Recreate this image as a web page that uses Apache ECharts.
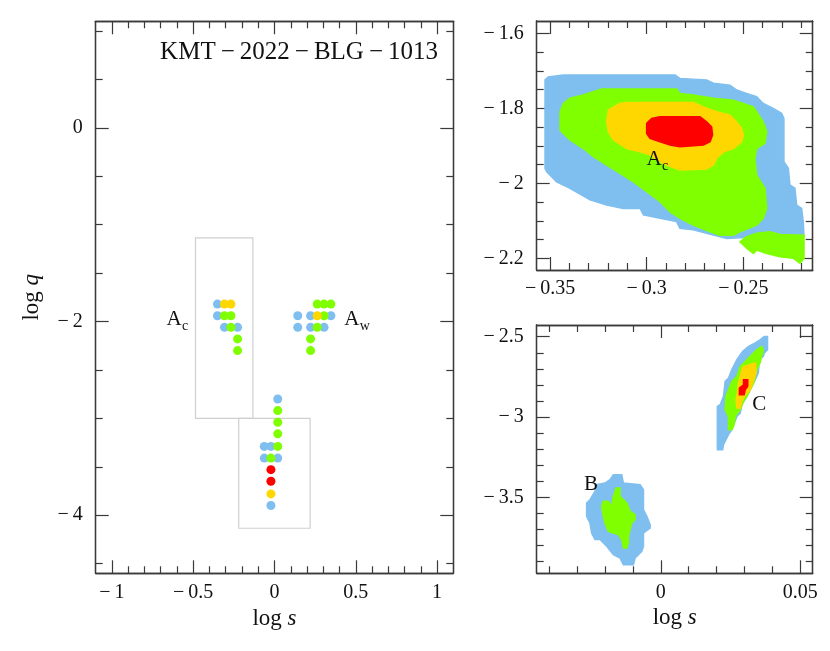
<!DOCTYPE html>
<html><head><meta charset="utf-8">
<script src="https://cdn.jsdelivr.net/npm/echarts@6/dist/echarts.min.js"></script>
<style>html,body{margin:0;padding:0;background:#fff}#c{width:830px;height:651px}</style>
</head><body><div id="c"></div>
<script>
// ---------------- Left panel: grid-search solutions (log s, log q) ----------------
const leftBlue = [[-0.351,-1.82],[-0.351,-1.94],[-0.308,-2.06],[-0.227,-2.06],
  [0.143,-1.94],[0.222,-1.94],[0.347,-1.94],[0.143,-2.06],[0.222,-2.06],[0.305,-2.06],
  [0.020,-2.80],[-0.063,-3.29],[-0.022,-3.29],[-0.063,-3.41],[0.020,-3.41],[-0.022,-3.90]];
const leftGreen = [[-0.308,-1.94],[-0.268,-1.94],[-0.268,-2.06],[-0.227,-2.18],[-0.227,-2.30],
  [0.263,-1.82],[0.305,-1.82],[0.347,-1.82],[0.305,-1.94],[0.263,-2.06],[0.222,-2.18],[0.222,-2.30],
  [0.020,-2.92],[0.020,-3.04],[0.020,-3.16],[0.020,-3.29],[-0.022,-3.41]];
const leftYellow = [[-0.308,-1.82],[-0.268,-1.82],[0.263,-1.94],[-0.022,-3.78]];
const leftRed = [[-0.022,-3.53],[-0.022,-3.65]];
// zoom boxes: [corner1, corner2]
const leftBoxes = [[[-0.486,-1.137],[-0.133,-3.0]], [[-0.22,-3.0],[0.219,-4.135]]];
const leftLabels = [{main:'A', sub:'c', at:[-0.618,-1.98]}, {main:'A', sub:'w', at:[0.475,-1.98]}];

// ---------------- Top-right panel: A_c local (outline vertices of each sigma region) ----------------
const trBlue = [[-0.3526,-1.960],[-0.3526,-1.724],[-0.3509,-1.716],[-0.3431,-1.711],[-0.2853,-1.711],
  [-0.2828,-1.720],[-0.2690,-1.724],[-0.2655,-1.733],[-0.2569,-1.738],[-0.2534,-1.751],[-0.2483,-1.760],
  [-0.2431,-1.769],[-0.2397,-1.787],[-0.2345,-1.800],[-0.2302,-1.813],[-0.2290,-1.827],[-0.2290,-1.942],
  [-0.2267,-1.960],[-0.2259,-2.004],[-0.2233,-2.013],[-0.2224,-2.058],[-0.2198,-2.067],[-0.2190,-2.102],
  [-0.2186,-2.142],[-0.2517,-2.145],[-0.2586,-2.147],[-0.2655,-2.138],[-0.2759,-2.124],[-0.2828,-2.120],
  [-0.2845,-2.102],[-0.2931,-2.093],[-0.3017,-2.084],[-0.3034,-2.067],[-0.3121,-2.067],[-0.3207,-2.058],
  [-0.3293,-2.044],[-0.3397,-2.013],[-0.3466,-1.996],[-0.3517,-1.969]];
const trGreen = [[-0.3448,-1.858],[-0.3448,-1.809],[-0.3431,-1.787],[-0.3397,-1.773],[-0.3328,-1.764],
  [-0.3233,-1.748],[-0.2845,-1.748],[-0.2828,-1.760],[-0.2759,-1.764],[-0.2655,-1.773],[-0.2552,-1.778],
  [-0.2500,-1.787],[-0.2448,-1.796],[-0.2431,-1.809],[-0.2397,-1.836],[-0.2379,-1.862],[-0.2388,-1.893],
  [-0.2431,-1.907],[-0.2440,-1.933],[-0.2431,-1.978],[-0.2388,-2.013],[-0.2379,-2.067],[-0.2397,-2.093],
  [-0.2431,-2.111],[-0.2517,-2.129],[-0.2552,-2.138],[-0.2621,-2.138],[-0.2672,-2.129],[-0.2759,-2.111],
  [-0.2828,-2.093],[-0.2879,-2.076],[-0.2931,-2.049],[-0.3000,-2.022],[-0.3069,-1.996],[-0.3138,-1.973],
  [-0.3207,-1.951],[-0.3276,-1.929],[-0.3328,-1.907],[-0.3397,-1.884]];
const trGreenTail = [[-0.2517,-2.156],[-0.2483,-2.142],[-0.2431,-2.133],[-0.2362,-2.129],[-0.2310,-2.136],
  [-0.2186,-2.138],[-0.2186,-2.200],[-0.2207,-2.213],[-0.2241,-2.200],[-0.2310,-2.196],[-0.2379,-2.187],
  [-0.2431,-2.178],[-0.2448,-2.187],[-0.2483,-2.173]];
const trYellow = [[-0.3207,-1.836],[-0.3198,-1.804],[-0.3138,-1.787],[-0.3103,-1.784],[-0.2759,-1.784],
  [-0.2707,-1.796],[-0.2638,-1.809],[-0.2569,-1.818],[-0.2534,-1.836],[-0.2509,-1.853],[-0.2500,-1.871],
  [-0.2509,-1.889],[-0.2552,-1.907],[-0.2603,-1.916],[-0.2638,-1.933],[-0.2655,-1.951],[-0.2690,-1.962],
  [-0.2828,-1.964],[-0.2897,-1.951],[-0.2931,-1.942],[-0.2983,-1.924],[-0.3034,-1.916],[-0.3103,-1.907],
  [-0.3172,-1.884],[-0.3198,-1.862]];
const trRed = [[-0.3000,-1.840],[-0.2974,-1.827],[-0.2931,-1.822],[-0.2724,-1.822],[-0.2690,-1.836],
  [-0.2664,-1.849],[-0.2659,-1.871],[-0.2672,-1.889],[-0.2707,-1.898],[-0.2828,-1.902],[-0.2879,-1.898],
  [-0.2931,-1.889],[-0.2983,-1.880],[-0.3000,-1.867]];
const trLabels = [{main:'A', sub:'c', at:[-0.2962,-1.9365]}];

// ---------------- Bottom-right panel: B and C local solutions ----------------
const brBlueC = [[0.0203,-3.203],[0.0203,-2.934],[0.0213,-2.923],[0.0225,-2.871],[0.0231,-2.778],
  [0.0243,-2.757],[0.0255,-2.705],[0.0273,-2.643],[0.0294,-2.591],[0.0315,-2.560],[0.0339,-2.539],
  [0.0356,-2.519],[0.0371,-2.498],[0.0383,-2.498],[0.0383,-2.581],[0.0371,-2.602],[0.0368,-2.622],
  [0.0354,-2.643],[0.0350,-2.726],[0.0339,-2.768],[0.0327,-2.809],[0.0309,-2.871],[0.0291,-2.923],
  [0.0285,-2.975],[0.0273,-2.996],[0.0255,-3.079],[0.0243,-3.110],[0.0234,-3.141],[0.0225,-3.172],[0.0222,-3.203]];
const brGreenC = [[0.0362,-2.560],[0.0368,-2.581],[0.0362,-2.622],[0.0356,-2.664],[0.0344,-2.705],
  [0.0339,-2.747],[0.0333,-2.788],[0.0321,-2.830],[0.0309,-2.871],[0.0297,-2.902],[0.0285,-2.954],
  [0.0267,-2.996],[0.0263,-3.048],[0.0255,-3.079],[0.0243,-3.079],[0.0243,-2.996],[0.0231,-2.954],
  [0.0234,-2.871],[0.0243,-2.830],[0.0255,-2.778],[0.0273,-2.747],[0.0285,-2.685],[0.0303,-2.654],
  [0.0321,-2.622],[0.0344,-2.581]];
const brYellowC = [[0.0297,-2.685],[0.0339,-2.664],[0.0342,-2.726],[0.0333,-2.768],[0.0321,-2.830],
  [0.0303,-2.861],[0.0291,-2.902],[0.0285,-2.944],[0.0273,-2.944],[0.0270,-2.892],[0.0275,-2.851],
  [0.0279,-2.788],[0.0285,-2.747],[0.0291,-2.705]];
const brRedC = [[0.0297,-2.768],[0.0312,-2.768],[0.0312,-2.809],[0.0303,-2.830],[0.0299,-2.861],
  [0.0282,-2.861],[0.0282,-2.820],[0.0297,-2.799]];
const brBlueB = [[-0.0170,-3.359],[-0.0140,-3.359],[-0.0134,-3.411],[-0.0074,-3.421],[-0.0062,-3.452],
  [-0.0062,-3.577],[-0.0050,-3.618],[-0.0038,-3.670],[-0.0038,-3.691],[-0.0062,-3.722],[-0.0062,-3.805],
  [-0.0068,-3.836],[-0.0092,-3.878],[-0.0098,-3.919],[-0.0134,-3.919],[-0.0146,-3.878],[-0.0170,-3.857],
  [-0.0194,-3.805],[-0.0218,-3.763],[-0.0236,-3.763],[-0.0248,-3.722],[-0.0254,-3.660],[-0.0266,-3.618],
  [-0.0266,-3.535],[-0.0254,-3.515],[-0.0236,-3.463],[-0.0230,-3.421],[-0.0200,-3.411],[-0.0182,-3.390]];
const brGreenB = [[-0.0160,-3.442],[-0.0146,-3.442],[-0.0146,-3.494],[-0.0122,-3.535],[-0.0110,-3.587],
  [-0.0092,-3.608],[-0.0092,-3.639],[-0.0104,-3.660],[-0.0110,-3.701],[-0.0116,-3.743],[-0.0116,-3.784],
  [-0.0122,-3.815],[-0.0134,-3.815],[-0.0140,-3.763],[-0.0152,-3.732],[-0.0170,-3.722],[-0.0188,-3.712],
  [-0.0200,-3.660],[-0.0206,-3.618],[-0.0212,-3.556],[-0.0206,-3.525],[-0.0188,-3.525],[-0.0176,-3.556],
  [-0.0170,-3.494]];
const brLabels = [{main:'B', sub:'', at:[-0.0250,-3.418]}, {main:'C', sub:'', at:[0.0353,-2.923]}];

// ---------------- Axis ranges and ticks ----------------
const leftX = {min:-1.1, max:1.1, majors:[-1,-0.5,0,0.5,1],
  minors:[-0.9,-0.8,-0.7,-0.6,-0.4,-0.3,-0.2,-0.1,0.1,0.2,0.3,0.4,0.6,0.7,0.8,0.9]};
const leftY = {min:-4.6, max:1.1, majors:[-4,-2,0], minors:[-4.5,-3.5,-3,-2.5,-1.5,-1,-0.5,0.5,1]};
const trX = {min:-0.3569, max:-0.2141, majors:[-0.35,-0.3,-0.25],
  minors:[-0.34,-0.33,-0.32,-0.31,-0.29,-0.28,-0.27,-0.26,-0.24,-0.23,-0.22]};
const trY = {min:-2.231, max:-1.567, majors:[-2.2,-2,-1.8,-1.6],
  minors:[-2.15,-2.1,-2.05,-1.95,-1.9,-1.85,-1.75,-1.7,-1.65]};
const brX = {min:-0.0445, max:0.0545, majors:[0,0.05],
  minors:[-0.04,-0.03,-0.02,-0.01,0.01,0.02,0.03,0.04]};
const brY = {min:-3.973, max:-2.427, majors:[-3.5,-3,-2.5],
  minors:[-3.9,-3.8,-3.7,-3.6,-3.4,-3.3,-3.2,-3.1,-2.9,-2.8,-2.7,-2.6]};
const titleText = 'KMT\u2009\u2212\u20092022\u2009\u2212\u2009BLG\u2009\u2212\u20091013';

// ---------------- Styling ----------------
const FONT = 'Liberation Serif';
const AX = '#3a3a3a';
const C_BLUE = '#7fbfef', C_GREEN = '#7fff00', C_YELLOW = '#ffd700', C_RED = '#ff0000';
function fmt(v) {
  const s = String(Math.round(v * 10000) / 10000);
  return s.charAt(0) === '-' ? '\u2212\u2009' + s.slice(1) : s;
}
const nameRich = {r:{fontFamily:FONT, fontSize:23, color:'#111'}, i:{fontFamily:FONT, fontSize:23, fontStyle:'italic', color:'#111'}};

function makeAxes(dim, g, spec, showLabels, nameOpts) {
  const sides = dim === 'x' ? ['bottom', 'top'] : ['left', 'right'];
  const out = [];
  sides.forEach(function (pos, si) {
    [spec.majors, spec.minors].forEach(function (vals, mi) {
      const main = si === 0 && mi === 0;
      const ax = {
        type: 'value', gridIndex: g, min: spec.min, max: spec.max, position: pos, offset: 0,
        axisLine: {show: true, onZero: false, lineStyle: {color: AX, width: 1.3}},
        axisTick: {show: true, inside: true, length: mi === 0 ? 13 : 7, customValues: vals,
          lineStyle: {color: AX, width: 1.2}},
        axisLabel: (main && showLabels) ? {show: true, customValues: spec.majors, formatter: fmt,
          fontFamily: FONT, fontSize: 20, color: '#111', margin: dim === 'x' ? 9 : 13} : {show: false},
        splitLine: {show: false}, splitArea: {show: false},
        minorTick: {show: false}, minorSplitLine: {show: false}, silent: true
      };
      if (main && nameOpts) Object.assign(ax, nameOpts);
      out.push(ax);
    });
  });
  return out;
}

function polySeries(g, pts, color) {
  return {
    type: 'custom', coordinateSystem: 'cartesian2d', xAxisIndex: 4 * g, yAxisIndex: 4 * g,
    data: pts, silent: true, clip: true, z: 2,
    renderItem: function (params, api) {
      if (params.dataIndex !== 0) return null;
      const p = pts.map(function (d) { return api.coord(d); });
      return {type: 'polygon', shape: {points: p}, style: {fill: color, stroke: color, lineWidth: 1.5}};
    }
  };
}
function dotSeries(pts, color) {
  return {type: 'scatter', xAxisIndex: 0, yAxisIndex: 0, data: pts, symbol: 'circle', symbolSize: 9,
    itemStyle: {color: color, opacity: 1}, silent: true, z: 3, animation: false};
}

const chart = echarts.init(document.getElementById('c'), null, {renderer: 'canvas'});
const xName = {name: '{r|log }{i|s}', nameLocation: 'middle', nameGap: 33, nameTextStyle: {rich: nameRich}};
const yName = {name: '{r|log }{i|q}', nameLocation: 'middle', nameGap: 52, nameRotate: 90, nameTextStyle: {rich: nameRich}};

const option = {
  animation: false,
  backgroundColor: '#fff',
  grid: [
    {left: 95.7, top: 21.3, width: 357.6, height: 552},
    {left: 536.7, top: 21, width: 276, height: 249},
    {left: 536.7, top: 325, width: 276, height: 248.3}
  ],
  xAxis: [].concat(makeAxes('x', 0, leftX, true, xName), makeAxes('x', 1, trX, true, null), makeAxes('x', 2, brX, true, xName)),
  yAxis: [].concat(makeAxes('y', 0, leftY, true, yName), makeAxes('y', 1, trY, true, null), makeAxes('y', 2, brY, true, null)),
  series: [
    {
      type: 'custom', coordinateSystem: 'cartesian2d', xAxisIndex: 0, yAxisIndex: 0, data: leftBoxes.map(function (b, i) { return [i]; }),
      silent: true, z: 1,
      renderItem: function (params, api) {
        const b = leftBoxes[params.dataIndex];
        const a = api.coord(b[0]), c = api.coord(b[1]);
        return {type: 'rect', shape: {x: Math.min(a[0], c[0]), y: Math.min(a[1], c[1]), width: Math.abs(c[0] - a[0]), height: Math.abs(c[1] - a[1])},
          style: {fill: null, stroke: '#cfcfcf', lineWidth: 1.2}};
      }
    },
    dotSeries(leftBlue, C_BLUE), dotSeries(leftGreen, C_GREEN), dotSeries(leftYellow, C_YELLOW), dotSeries(leftRed, C_RED),
    polySeries(1, trBlue, C_BLUE), polySeries(1, trGreen, C_GREEN), polySeries(1, trGreenTail, C_GREEN),
    polySeries(1, trYellow, C_YELLOW), polySeries(1, trRed, C_RED),
    polySeries(2, brBlueC, C_BLUE), polySeries(2, brGreenC, C_GREEN), polySeries(2, brYellowC, C_YELLOW), polySeries(2, brRedC, C_RED),
    polySeries(2, brBlueB, C_BLUE), polySeries(2, brGreenB, C_GREEN)
  ]
};
chart.setOption(option);

// text labels anchored to data positions
const graphics = [];
function addLabels(list, g) {
  list.forEach(function (l) {
    const p = chart.convertToPixel({xAxisIndex: 4 * g, yAxisIndex: 4 * g}, l.at);
    graphics.push({type: 'text', x: p[0], y: p[1], z: 10, style: {text: l.main, fontFamily: FONT, fontSize: 21, fill: '#111', align: 'center', verticalAlign: 'middle'}});
    if (l.sub) {
      graphics.push({type: 'text', x: p[0] + 8, y: p[1] + 7, z: 10, style: {text: l.sub, fontFamily: FONT, fontSize: 14, fill: '#111', align: 'left', verticalAlign: 'middle'}});
    }
  });
}
addLabels(leftLabels, 0); addLabels(trLabels, 1); addLabels(brLabels, 2);
graphics.push({type: 'text', x: 438, y: 52, z: 10, style: {text: titleText, fontFamily: FONT, fontSize: 25, fill: '#111', align: 'right', verticalAlign: 'middle'}});
chart.setOption({graphic: graphics});
</script>
</body></html>
